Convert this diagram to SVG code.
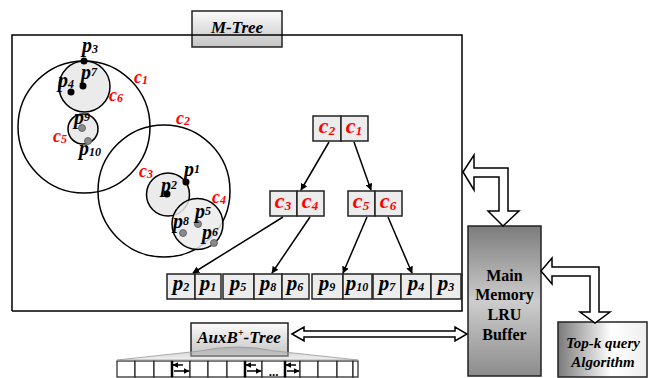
<svg xmlns="http://www.w3.org/2000/svg" width="648" height="378" viewBox="0 0 648 378">
<defs>
<linearGradient id="gBox" x1="0" y1="0" x2="0" y2="1"><stop offset="0" stop-color="#fbfbfb"/><stop offset="1" stop-color="#c4c4c4"/></linearGradient>
<linearGradient id="gBuf" x1="0" y1="0" x2="0" y2="1"><stop offset="0" stop-color="#7c7c7c"/><stop offset="0.5" stop-color="#cdcdcd"/><stop offset="1" stop-color="#8c8c8c"/></linearGradient>
<linearGradient id="gTop" x1="0" y1="0" x2="1" y2="0"><stop offset="0" stop-color="#7a7a7a"/><stop offset="0.6" stop-color="#ffffff"/><stop offset="1" stop-color="#eeeeee"/></linearGradient>
<linearGradient id="gTri" x1="0" y1="0" x2="0" y2="1"><stop offset="0" stop-color="#9a9a9a" stop-opacity="0.6"/><stop offset="1" stop-color="#d8d8d8" stop-opacity="0.4"/></linearGradient>
<marker id="ah" viewBox="0 0 10 10" refX="9" refY="5" markerWidth="7" markerHeight="7" orient="auto" markerUnits="userSpaceOnUse"><path d="M0,0 L10,5 L0,10 z" fill="#000"/></marker>
<marker id="sa" viewBox="0 0 10 10" refX="9" refY="5" markerWidth="6" markerHeight="6" orient="auto" markerUnits="userSpaceOnUse"><path d="M0,0 L10,5 L0,10 z" fill="#000"/></marker>
</defs>
<style>
.t{font-family:'Liberation Serif','Times New Roman',serif;font-weight:bold;font-style:italic;fill:#000}
.r{fill:#ff0000}
.n{font-family:'Liberation Serif','Times New Roman',serif;font-weight:bold;fill:#000}
.cell{fill:#ececec;stroke:#222;stroke-width:1.5}
.wc{fill:#fff;stroke:#222;stroke-width:1.2}
.big{fill:none;stroke:#000;stroke-width:1.5}
.sm{fill:#ebebeb;stroke:#000;stroke-width:1.5}
.bd{fill:#000}
.gd{fill:#8a8a8a;stroke:#555;stroke-width:0.8}
.blk{fill:#fff;stroke:#000;stroke-width:1.5;stroke-linejoin:miter}
.ln{stroke:#000;stroke-width:1.5;fill:none}
.pa{stroke:#000;stroke-width:1.5}
</style>

<g id="mtree-frame">
<rect x="192" y="11" width="90" height="36" fill="url(#gBox)" stroke="#222" stroke-width="1.5"/>
<polyline class="ln" points="12,311 12,35 462,35 462,311 12,311"/>
<text class="t" x="237" y="33" font-size="17" text-anchor="middle">M-Tree</text>
</g>

<g id="circles">
<circle class="big" cx="84" cy="127" r="66"/>
<circle class="big" cx="164" cy="191" r="66"/>
<circle class="sm" cx="84.5" cy="86.5" r="25.5"/>
<circle class="sm" cx="83" cy="129" r="15"/>
<circle class="sm" cx="168" cy="194.5" r="21.5"/>
<circle class="sm" cx="197.5" cy="224" r="25.5" fill-opacity="0.85"/>
<circle class="bd" cx="84" cy="61" r="3.5"/>
<circle class="bd" cx="83" cy="86" r="3.5"/>
<circle class="bd" cx="71" cy="92" r="3.5"/>
<circle class="bd" cx="167" cy="194" r="3.5"/>
<circle class="bd" cx="186" cy="182" r="3.5"/>
<circle class="gd" cx="82" cy="128" r="3.5"/>
<circle class="gd" cx="88" cy="141" r="3.5"/>
<circle class="gd" cx="198" cy="224" r="3.5"/>
<circle class="gd" cx="183" cy="233" r="3.5"/>
<circle class="gd" cx="214" cy="243" r="3.5"/>
<text class="t" x="82" y="52" font-size="20">p<tspan font-size="12" dy="1">3</tspan></text>
<text class="t" x="81" y="79" font-size="20">p<tspan font-size="12" dy="-3">7</tspan></text>
<text class="t" x="58" y="87" font-size="20">p<tspan font-size="12" dy="1">4</tspan></text>
<text class="t r" x="134" y="83" font-size="18">c<tspan font-size="12" dy="1">1</tspan></text>
<text class="t r" x="109" y="101" font-size="18">c<tspan font-size="12" dy="1">6</tspan></text>
<text class="t" x="74" y="124" font-size="20">p<tspan font-size="12" dy="-3">9</tspan></text>
<text class="t r" x="53" y="142" font-size="18">c<tspan font-size="12" dy="1">5</tspan></text>
<text class="t" x="79" y="155" font-size="20">p<tspan font-size="12" dy="1">10</tspan></text>
<text class="t r" x="176" y="124" font-size="18">c<tspan font-size="12" dy="1">2</tspan></text>
<text class="t r" x="139" y="177" font-size="18">c<tspan font-size="12" dy="1">3</tspan></text>
<text class="t" x="184" y="176" font-size="20">p<tspan font-size="12" dy="-3">1</tspan></text>
<text class="t" x="161" y="192" font-size="20">p<tspan font-size="12" dy="-3">2</tspan></text>
<text class="t r" x="212" y="203" font-size="18">c<tspan font-size="12" dy="1">4</tspan></text>
<text class="t" x="195" y="218" font-size="20">p<tspan font-size="12" dy="-3">5</tspan></text>
<text class="t" x="173" y="228" font-size="20">p<tspan font-size="12" dy="-3">8</tspan></text>
<text class="t" x="202" y="239" font-size="20">p<tspan font-size="12" dy="-3">6</tspan></text>
</g>

<g id="node-root">
<rect class="cell" x="313" y="116" width="28" height="25"/>
<rect class="cell" x="341" y="116" width="27" height="25"/>
<text class="t r" x="327" y="133" font-size="22" text-anchor="middle">c<tspan font-size="13" dy="2">2</tspan></text>
<text class="t r" x="354" y="133" font-size="22" text-anchor="middle">c<tspan font-size="13" dy="2">1</tspan></text>
</g>
<g id="node-c3c4">
<rect class="cell" x="270" y="191" width="27" height="25"/>
<rect class="cell" x="297" y="191" width="27" height="25"/>
<text class="t r" x="283" y="208" font-size="22" text-anchor="middle">c<tspan font-size="13" dy="2">3</tspan></text>
<text class="t r" x="310" y="208" font-size="22" text-anchor="middle">c<tspan font-size="13" dy="2">4</tspan></text>
</g>
<g id="node-c5c6">
<rect class="cell" x="348" y="191" width="27" height="25"/>
<rect class="cell" x="375" y="191" width="27" height="25"/>
<text class="t r" x="361" y="208" font-size="22" text-anchor="middle">c<tspan font-size="13" dy="2">5</tspan></text>
<text class="t r" x="388" y="208" font-size="22" text-anchor="middle">c<tspan font-size="13" dy="2">6</tspan></text>
</g>
<g id="leaf-1">
<rect class="cell" x="167" y="274" width="28" height="25"/>
<rect class="cell" x="195" y="274" width="26" height="25"/>
<text class="t" x="181" y="290" font-size="21" text-anchor="middle">p<tspan font-size="12" dy="1">2</tspan></text>
<text class="t" x="208" y="290" font-size="21" text-anchor="middle">p<tspan font-size="12" dy="1">1</tspan></text>
</g>
<g id="leaf-2">
<rect class="cell" x="223" y="274" width="31" height="25"/>
<rect class="cell" x="254" y="274" width="28" height="25"/>
<rect class="cell" x="282" y="274" width="27" height="25"/>
<text class="t" x="238" y="290" font-size="21" text-anchor="middle">p<tspan font-size="12" dy="1">5</tspan></text>
<text class="t" x="268" y="290" font-size="21" text-anchor="middle">p<tspan font-size="12" dy="1">8</tspan></text>
<text class="t" x="295" y="290" font-size="21" text-anchor="middle">p<tspan font-size="12" dy="1">6</tspan></text>
</g>
<g id="leaf-3">
<rect class="cell" x="312" y="274" width="31" height="25"/>
<rect class="cell" x="343" y="274" width="29" height="25"/>
<text class="t" x="327" y="290" font-size="21" text-anchor="middle">p<tspan font-size="12" dy="1">9</tspan></text>
<text class="t" x="357" y="290" font-size="21" text-anchor="middle">p<tspan font-size="12" dy="1">10</tspan></text>
</g>
<g id="leaf-4">
<rect class="cell" x="373" y="274" width="28" height="25"/>
<rect class="cell" x="401" y="274" width="30" height="25"/>
<rect class="cell" x="431" y="274" width="30" height="25"/>
<text class="t" x="387" y="290" font-size="21" text-anchor="middle">p<tspan font-size="12" dy="1">7</tspan></text>
<text class="t" x="416" y="290" font-size="21" text-anchor="middle">p<tspan font-size="12" dy="1">4</tspan></text>
<text class="t" x="446" y="290" font-size="21" text-anchor="middle">p<tspan font-size="12" dy="1">3</tspan></text>
</g>

<g id="buffer">
<rect x="468" y="226" width="73" height="150" fill="url(#gBuf)" stroke="#222" stroke-width="1.5"/>
<text class="n" x="504.5" y="281" font-size="16" text-anchor="middle">Main</text>
<text class="n" x="504.5" y="300" font-size="16" text-anchor="middle">Memory</text>
<text class="n" x="504.5" y="320" font-size="16" text-anchor="middle">LRU</text>
<text class="n" x="504.5" y="340" font-size="16" text-anchor="middle">Buffer</text>
</g>
<g id="topk">
<rect x="558" y="322" width="89" height="55" fill="url(#gTop)" stroke="#222" stroke-width="1.5"/>
<text class="t" x="603" y="348" font-size="15" text-anchor="middle">Top-k query</text>
<text class="t" x="603" y="367" font-size="15" text-anchor="middle">Algorithm</text>
</g>

<g id="auxbtree">
<rect class="wc" x="117" y="361" width="18" height="16"/>
<rect class="wc" x="135" y="361" width="19" height="16"/>
<rect class="wc" x="154" y="361" width="18" height="16"/>
<rect class="wc" x="172" y="361" width="18" height="16"/>
<rect class="wc" x="190" y="361" width="18" height="16"/>
<rect class="wc" x="208" y="361" width="19" height="16"/>
<rect class="wc" x="227" y="361" width="18" height="16"/>
<rect class="wc" x="245" y="361" width="17" height="16"/>
<rect class="wc" x="262" y="361" width="23" height="16"/>
<rect class="wc" x="285" y="361" width="15" height="16"/>
<rect class="wc" x="300" y="361" width="18" height="16"/>
<rect class="wc" x="318" y="361" width="19" height="16"/>
<rect class="wc" x="337" y="361" width="16" height="16"/>
<rect class="wc" x="353" y="361" width="5" height="16"/>
<line x1="172" y1="361" x2="172" y2="377" stroke="#000" stroke-width="2.5"/>
<line x1="245" y1="361" x2="245" y2="377" stroke="#000" stroke-width="2.5"/>
<line x1="285" y1="361" x2="285" y2="377" stroke="#000" stroke-width="2.5"/>
<line class="pa" x1="183" y1="365" x2="173" y2="365" marker-end="url(#sa)"/>
<line class="pa" x1="174" y1="371" x2="189" y2="371" marker-end="url(#sa)"/>
<line class="pa" x1="256" y1="365" x2="246" y2="365" marker-end="url(#sa)"/>
<line class="pa" x1="247" y1="371" x2="261" y2="371" marker-end="url(#sa)"/>
<line class="pa" x1="296" y1="365" x2="286" y2="365" marker-end="url(#sa)"/>
<line class="pa" x1="287" y1="371" x2="299" y2="371" marker-end="url(#sa)"/>
<text class="n" x="273.5" y="376" font-size="13" text-anchor="middle">...</text>
<rect x="191" y="323" width="97" height="33" fill="url(#gBox)" stroke="#222" stroke-width="1.5"/>
<path d="M117,360 L200,351 Q237,343 275,351 L358,360 Z" fill="url(#gTri)" stroke="#999" stroke-width="0.8"/>
<text class="t" x="239" y="343" font-size="17" text-anchor="middle">AuxB<tspan font-size="10" dy="-7">+</tspan><tspan dy="7">-Tree</tspan></text>
</g>

<g id="connectors">
<line class="ln" x1="329" y1="142" x2="301" y2="190" marker-end="url(#ah)"/>
<line class="ln" x1="354" y1="142" x2="371" y2="190" marker-end="url(#ah)"/>
<line class="ln" x1="283" y1="217" x2="193" y2="273" marker-end="url(#ah)"/>
<line class="ln" x1="310" y1="217" x2="272" y2="273" marker-end="url(#ah)"/>
<line class="ln" x1="367" y1="217" x2="343" y2="273" marker-end="url(#ah)"/>
<line class="ln" x1="388" y1="217" x2="412" y2="273" marker-end="url(#ah)"/>
<polygon class="blk" points="463,172 474,155 474,168 508,168 508,211 519,211 503,226 488,211 499,211 499,177 474,177 474,190"/>
<polygon class="blk" points="541,271 552,258 552,267 599,267 599,312 610,312 595,323 580,312 590,312 590,276 552,276 552,284"/>
<polygon class="blk" points="292,334 304,327 304,331 455,331 455,327 467,334 455,341 455,337 304,337 304,341"/>
</g>
</svg>
